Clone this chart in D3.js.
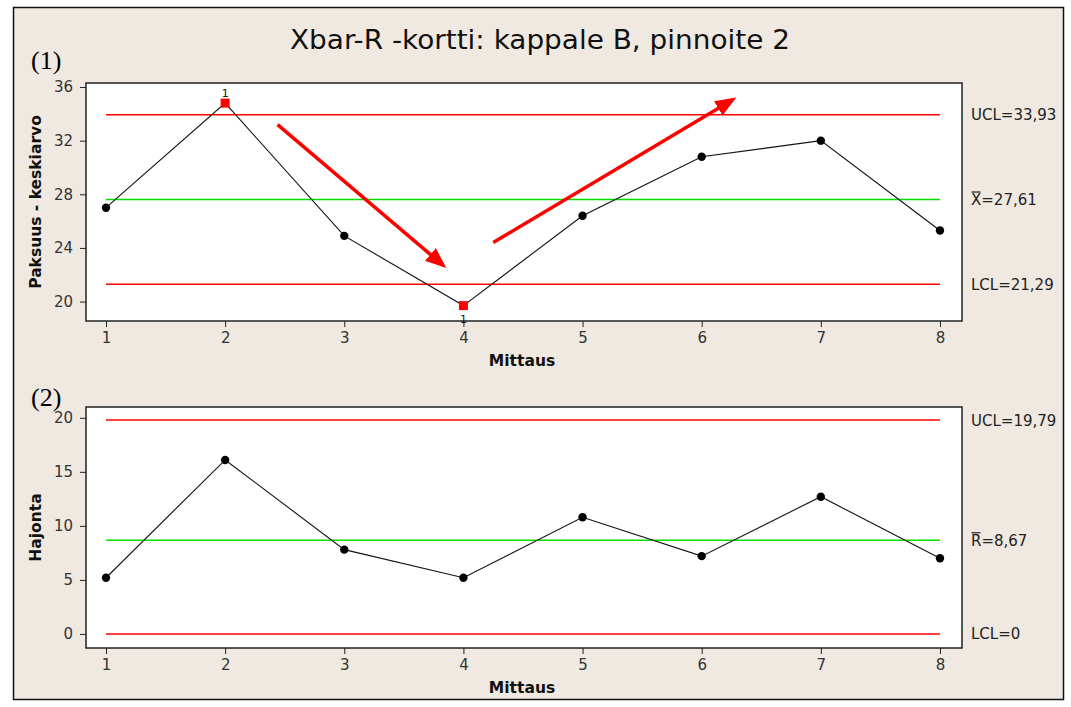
<!DOCTYPE html>
<html>
<head>
<meta charset="utf-8">
<script src="https://cdn.jsdelivr.net/npm/d3@7"></script>
<style>
  html, body { margin: 0; padding: 0; background: #ffffff; }
  svg { display: block; }
</style>
</head>
<body>
<svg id="chart" width="1071" height="707"></svg>
<script>
// Measurement index
const samples = [1, 2, 3, 4, 5, 6, 7, 8];

// Xbar chart: subgroup means and control limits
const meanValues = [27.0, 34.8, 24.9, 19.7, 26.4, 30.8, 32.0, 25.3];
const meanFailures = [2, 4];            // samples flagged by test 1
const meanTicks = [20, 24, 28, 32, 36];
const meanLimits = [
  { key: "UCL", value: 33.93, label: "UCL=33,93", color: "#ff0000" },
  { key: "CL",  value: 27.61, label: "=27,61",    color: "#00e000", symbol: "X" },
  { key: "LCL", value: 21.29, label: "LCL=21,29", color: "#ff0000" }
];

// R chart: subgroup ranges and control limits
const rangeValues = [5.2, 16.1, 7.8, 5.2, 10.8, 7.2, 12.7, 7.0];
const rangeTicks = [0, 5, 10, 15, 20];
const rangeLimits = [
  { key: "UCL", value: 19.79, label: "UCL=19,79", color: "#ff0000" },
  { key: "CL",  value: 8.67,  label: "=8,67",     color: "#00e000", symbol: "R" },
  { key: "LCL", value: 0,     label: "LCL=0",     color: "#ff0000" }
];

// Trend arrows drawn over the Xbar chart (in data units)
const trendArrows = [
  { x1: 2.44, y1: 33.2, x2: 3.83, y2: 22.7 },
  { x1: 4.25, y1: 24.4, x2: 6.26, y2: 35.05 }
];

const svg = d3.select("#chart");
const W = 1071, H = 707;
const uiFont = "Tahoma, 'DejaVu Sans', Verdana, sans-serif";

// Window background and frame
svg.append("rect").attr("x", 0).attr("y", 0).attr("width", W).attr("height", H).attr("fill", "#ffffff");
svg.append("rect").attr("x", 13.5).attr("y", 7.5).attr("width", 1050).attr("height", 692)
  .attr("fill", "#efe9e1").attr("stroke", "#111").attr("stroke-width", 1.5);

// Title
svg.append("text").attr("x", 540).attr("y", 49).attr("text-anchor", "middle")
  .attr("font-family", uiFont).attr("font-size", 26).attr("fill", "#111")
  .attr("textLength", 500).attr("lengthAdjust", "spacingAndGlyphs")
  .text("Xbar-R -kortti: kappale B, pinnoite 2");

// Panel labels
const serif = "'Liberation Serif', 'Times New Roman', serif";
svg.append("text").attr("x", 31).attr("y", 69).attr("font-family", serif)
  .attr("font-size", 26).attr("fill", "#000").text("(1)");
svg.append("text").attr("x", 31).attr("y", 406).attr("font-family", serif)
  .attr("font-size", 26).attr("fill", "#000").text("(2)");

const plotLeft = 86, plotRight = 962;
const x = d3.scaleLinear().domain([0.832, 8.185]).range([plotLeft, plotRight]);

function panel(opts) {
  const { top, bottom, yDomain, ticks, values, limits, yLabel, failures } = opts;
  const y = d3.scaleLinear().domain(yDomain).range([bottom, top]);
  const g = svg.append("g");

  // Plot area
  g.append("rect").attr("x", plotLeft).attr("y", top)
    .attr("width", plotRight - plotLeft).attr("height", bottom - top)
    .attr("fill", "#ffffff").attr("stroke", "#222").attr("stroke-width", 1.5);

  // Axes
  const yAxis = d3.axisLeft(y).tickValues(ticks).tickSize(6).tickPadding(7);
  const ya = g.append("g").attr("transform", `translate(${plotLeft},0)`).call(yAxis);
  const xAxis = d3.axisBottom(x).tickValues(samples).tickSize(6).tickPadding(5).tickFormat(d3.format("d"));
  const xa = g.append("g").attr("transform", `translate(0,${bottom})`).call(xAxis);
  [ya, xa].forEach(a => {
    a.attr("font-size", null).attr("font-family", null);
    a.select(".domain").remove();
    a.selectAll("line").attr("stroke", "#222");
    a.selectAll("text").style("font-family", uiFont).style("font-size", "15px").attr("fill", "#333");
  });

  // Axis titles
  g.append("text").attr("x", (plotLeft + plotRight) / 2 - 2).attr("y", bottom + 45)
    .attr("text-anchor", "middle").attr("font-family", uiFont).attr("font-weight", "bold")
    .attr("font-size", 15.5).attr("fill", "#111").text("Mittaus");
  g.append("text").attr("transform", `translate(41,${(top + bottom) / 2}) rotate(-90)`)
    .attr("text-anchor", "middle").attr("font-family", uiFont).attr("font-weight", "bold")
    .attr("font-size", 15.5).attr("fill", "#111").text(yLabel);

  // Control limits and their labels
  limits.forEach(l => {
    g.append("line").attr("x1", x(1)).attr("x2", x(8)).attr("y1", y(l.value)).attr("y2", y(l.value))
      .attr("stroke", l.color).attr("stroke-width", 1.5);
    const t = g.append("text").attr("x", 971).attr("y", y(l.value) + 5.5)
      .attr("font-family", uiFont).attr("font-size", 15).attr("fill", "#222");
    if (l.symbol) {
      t.append("tspan").text(l.symbol);
      t.append("tspan").text(l.label);
      // bar over the symbol
      const sx = 971, sy = y(l.value) - 7.5;
      g.append("line").attr("x1", sx + 0.5).attr("x2", sx + 9.5).attr("y1", sy).attr("y2", sy)
        .attr("stroke", "#222").attr("stroke-width", 1.2);
    } else {
      t.text(l.label);
    }
  });

  // Data line
  const line = d3.line().x((d, i) => x(samples[i])).y(d => y(d));
  g.append("path").datum(values).attr("d", line).attr("fill", "none")
    .attr("stroke", "#111").attr("stroke-width", 1.1);

  // Markers
  values.forEach((v, i) => {
    const s = samples[i];
    if (failures && failures.includes(s)) {
      g.append("rect").attr("x", x(s) - 4.5).attr("y", y(v) - 4.5).attr("width", 9).attr("height", 9)
        .attr("fill", "#ff0000");
      const above = v > limits[0].value;
      g.append("text").attr("x", x(s)).attr("y", above ? y(v) - 6 : y(v) + 17)
        .attr("text-anchor", "middle").attr("font-family", uiFont).attr("font-size", 11)
        .attr("fill", "#111").text("1");
    } else {
      g.append("circle").attr("cx", x(s)).attr("cy", y(v)).attr("r", 4.2).attr("fill", "#000");
    }
  });

  return { g, y };
}

const meanPanel = panel({
  top: 83, bottom: 321, yDomain: [18.55, 36.3], ticks: meanTicks,
  values: meanValues, limits: meanLimits, yLabel: "Paksuus - keskiarvo", failures: meanFailures
});

panel({
  top: 407, bottom: 648, yDomain: [-1.3, 21.0], ticks: rangeTicks,
  values: rangeValues, limits: rangeLimits, yLabel: "Hajonta"
});

// Trend arrows
const defs = svg.append("defs");
defs.append("marker").attr("id", "arrowhead").attr("viewBox", "0 0 10 10")
  .attr("refX", 8).attr("refY", 5).attr("markerWidth", 6).attr("markerHeight", 6)
  .attr("markerUnits", "strokeWidth").attr("orient", "auto")
  .append("path").attr("d", "M0,1 L10,5 L0,9 Z").attr("fill", "#ff0000");

trendArrows.forEach(a => {
  svg.append("line")
    .attr("x1", x(a.x1)).attr("y1", meanPanel.y(a.y1))
    .attr("x2", x(a.x2)).attr("y2", meanPanel.y(a.y2))
    .attr("stroke", "#ff0000").attr("stroke-width", 3.5)
    .attr("marker-end", "url(#arrowhead)");
});
</script>
</body>
</html>
